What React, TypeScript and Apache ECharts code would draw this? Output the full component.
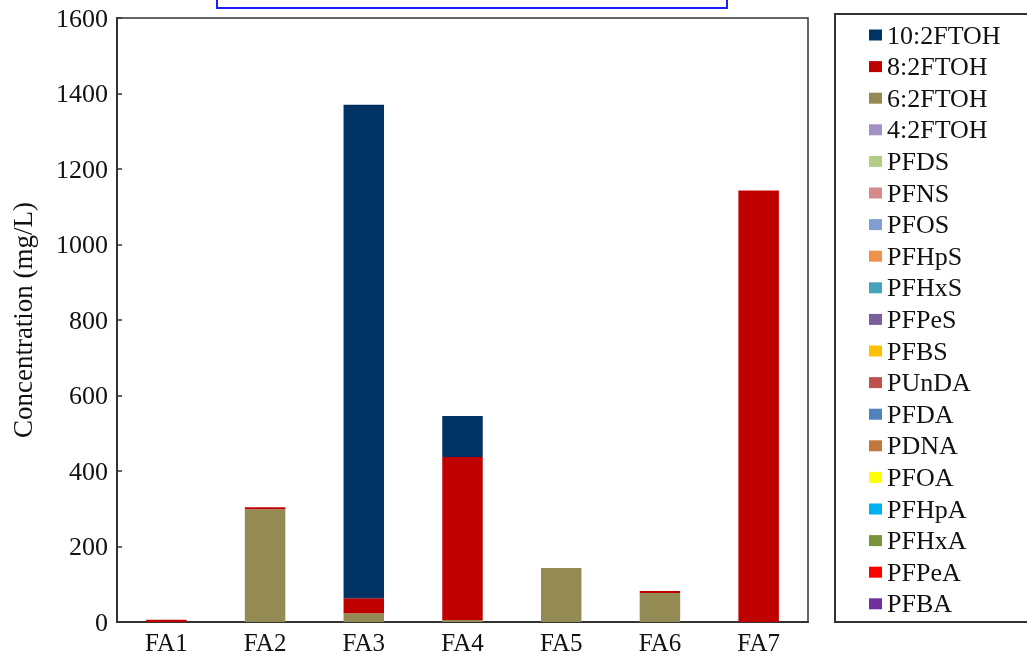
import React, { useEffect, useRef } from "react";
import * as echarts from "echarts";

const categories = ["FA1", "FA2", "FA3", "FA4", "FA5", "FA6", "FA7"];

// legend order (top to bottom)
const legendNames = [
  "10:2FTOH", "8:2FTOH", "6:2FTOH", "4:2FTOH", "PFDS", "PFNS", "PFOS", "PFHpS", "PFHxS",
  "PFPeS", "PFBS", "PUnDA", "PFDA", "PDNA", "PFOA", "PFHpA", "PFHxA", "PFPeA", "PFBA",
];

const seriesColors = [
  "#003264", "#C00000", "#948A54", "#A391C5", "#B3CC85", "#D48A88", "#809FD0", "#EE914A", "#45A3BC",
  "#7A5E9E", "#FFC000", "#C0504D", "#4F81BD", "#C1763A", "#FFFF00", "#00B0F0", "#77933C", "#FF0000", "#7030A0",
];

const ftoh10 = [0, 0, 1307, 109, 0, 0, 0];
const ftoh8 = [6, 5, 40, 432, 0, 5, 1143];
const ftoh6 = [0, 299, 23, 5, 143, 77, 0];
const zeros = [0, 0, 0, 0, 0, 0, 0];

const valuesByName: Record<string, number[]> = {
  "10:2FTOH": ftoh10,
  "8:2FTOH": ftoh8,
  "6:2FTOH": ftoh6,
};

const yTicks = { min: 0, max: 1600, interval: 200 };

const FONT = "'Liberation Serif', 'Times New Roman', serif";

export default function App() {
  const ref = useRef<HTMLDivElement>(null);
  useEffect(() => {
    document.body.style.margin = "0";
    const chart = echarts.init(ref.current!, null, { renderer: "svg" });
    // stacking order: bottom is last legend entry
    const stackOrder = [...legendNames].reverse();
    const series = stackOrder.map((name) => {
      const idx = legendNames.indexOf(name);
      return {
        name,
        type: "bar",
        stack: "total",
        barWidth: "41%",
        data: valuesByName[name] || zeros,
        itemStyle: { color: seriesColors[idx] },
      };
    });
    chart.setOption({
      animation: false,
      textStyle: { fontFamily: FONT },
      grid: {
        left: 117, right: 219, top: 18, bottom: 36,
        containLabel: false,
        outerBoundsMode: "none",
        show: true, borderColor: "#333", borderWidth: 1.5,
      },
      xAxis: {
        type: "category",
        data: categories,
        axisLine: { lineStyle: { color: "#333", width: 2 } },
        axisTick: { inside: true, length: 6, alignWithLabel: false, lineStyle: { color: "#333", width: 1.5 } },
        axisLabel: { fontFamily: FONT, fontSize: 25, color: "#111", margin: 8 },
      },
      yAxis: {
        type: "value",
        min: yTicks.min, max: yTicks.max, interval: yTicks.interval,
        name: "Concentration (mg/L)",
        nameLocation: "middle",
        nameGap: 81,
        nameTextStyle: { fontFamily: FONT, fontSize: 27, color: "#111" },
        splitLine: { show: false },
        axisLine: { show: true, lineStyle: { color: "#333", width: 2 } },
        axisTick: { show: true, inside: true, length: 5, lineStyle: { color: "#333", width: 1.5 } },
        axisLabel: {
          fontFamily: FONT, fontSize: 26, color: "#111", margin: 9,
          formatter: (v: number) => String(v),
        },
      },
      legend: {
        orient: "vertical",
        left: 869,
        top: 22,
        data: legendNames,
        icon: "rect",
        itemWidth: 13,
        itemHeight: 11,
        itemGap: 5.6,
        itemTextGap: 10,
        padding: 0,
        selectedMode: false,
        textStyle: { fontFamily: FONT, fontSize: 26, color: "#111", lineHeight: 26 },
      },
      graphic: [
        {
          type: "rect",
          shape: { x: 835, y: 14, width: 260, height: 608 },
          style: { fill: "none", stroke: "#333", lineWidth: 2 },
        },
        {
          type: "rect",
          shape: { x: 217, y: -20, width: 510, height: 28 },
          style: { fill: "none", stroke: "#1A1AFF", lineWidth: 2 },
        },
      ],
      series,
    });
    return () => chart.dispose();
  }, []);
  return <div ref={ref} style={{ position: "fixed", left: 0, top: 0, width: 1027, height: 658 }} />;
}
